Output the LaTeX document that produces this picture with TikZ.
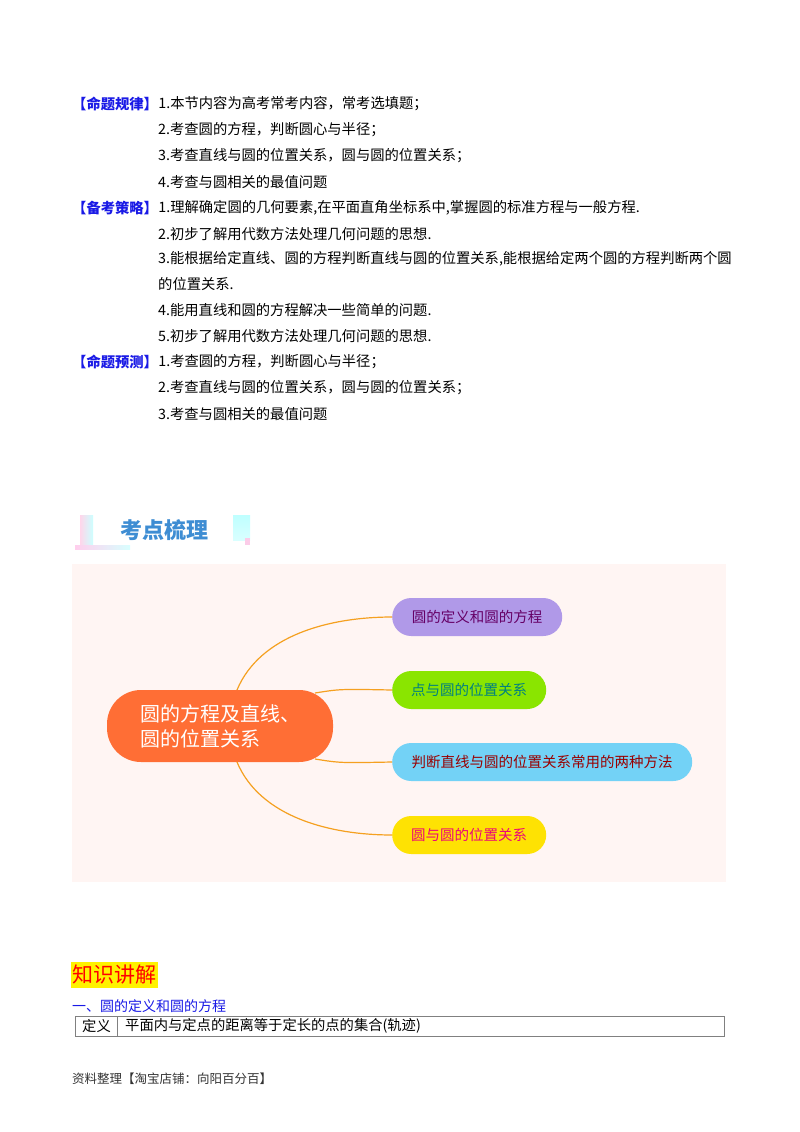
\documentclass[tikz,border=0pt]{standalone}
\usepackage{fontspec}
\setmainfont{Noto Sans CJK SC}
\definecolor{lblue}{HTML}{1A1AE6}
\definecolor{bgp}{HTML}{FFF5F3}
\definecolor{orc}{HTML}{FF6E35}
\definecolor{curv}{HTML}{F5A020}
\begin{document}
\begin{tikzpicture}[x=1pt,y=-1pt,
 tx/.style={anchor=west,inner sep=0pt,font=\fontsize{14.3}{16}\selectfont},
 lab/.style={tx,text=lblue,font=\fontsize{14.3}{16}\selectfont\bfseries},
 leaf/.style={rounded corners=19pt,minimum height=38pt,inner xsep=18pt,anchor=west,font=\fontsize{14.5}{16}\selectfont},
 conn/.style={draw=curv,line width=1.2pt}]
\useasboundingbox (0,0) rectangle (800,1132);
\fill[white] (0,0) rectangle (800,1132);
% text block
\node[lab] (l1) at (72,104) {【命题规律】};
\node[tx] (t1) at (l1.east) {1.本节内容为高考常考内容，常考选填题；};
\node[tx] (t2) at (158,130) {2.考查圆的方程，判断圆心与半径；};
\node[tx] (t3) at (158,156) {3.考查直线与圆的位置关系，圆与圆的位置关系；};
\node[tx] (t4) at (158,182) {4.考查与圆相关的最值问题};
\node[lab] (l2) at (72,208) {【备考策略】};
\node[tx] (s1) at (l2.east) {1.理解确定圆的几何要素,在平面直角坐标系中,掌握圆的标准方程与一般方程.};
\node[tx] (s2) at (158,234) {2.初步了解用代数方法处理几何问题的思想.};
\node[tx] (s3) at (158,259) {3.能根据给定直线、圆的方程判断直线与圆的位置关系,能根据给定两个圆的方程判断两个圆};
\node[tx] (s3b) at (158,284) {的位置关系.};
\node[tx] (s4) at (158,310) {4.能用直线和圆的方程解决一些简单的问题.};
\node[tx] (s5) at (158,336) {5.初步了解用代数方法处理几何问题的思想.};
\node[lab] (l3) at (72,362) {【命题预测】};
\node[tx] (p1) at (l3.east) {1.考查圆的方程，判断圆心与半径；};
\node[tx] (p2) at (158,388) {2.考查直线与圆的位置关系，圆与圆的位置关系；};
\node[tx] (p3) at (158,414) {3.考查与圆相关的最值问题};
% header
\shade[left color=pink!80!magenta!40, right color=cyan!20] (80,515) rectangle (93,545);
\shade[left color=pink!70!magenta!40, right color=cyan!15] (75,545) rectangle (130,549);
\shade[top color=cyan!25, bottom color=cyan!15] (233,515) rectangle (250,540);
\fill[magenta!20] (245,538) rectangle (250,545);
\node[anchor=west,inner sep=0pt,text=cyan!60!blue!80,font=\fontsize{22}{24}\selectfont\bfseries] (hd) at (120,530) {考点梳理};
% mind map
\fill[bgp] (72,564) rectangle (726,882);
\node[rounded corners=34pt,fill=orc,minimum width=226pt,minimum height=72pt,text=white,align=left,font=\fontsize{20}{25}\selectfont] (c) at (220,726) {圆的方程及直线、\\圆的位置关系};
\node[leaf,fill=violet!45!blue!40!white,text=violet!80!black,minimum width=170pt] (n1) at (392,617) {圆的定义和圆的方程};
\node[leaf,fill=lime!80!green!90!black,text=teal,minimum width=154pt] (n2) at (392,690) {点与圆的位置关系};
\node[leaf,fill=cyan!55,text=red!60!black,minimum width=300pt] (n3) at (392,762) {判断直线与圆的位置关系常用的两种方法};
\node[leaf,fill=yellow!85!orange,text=magenta!80!red,minimum width=154pt] (n4) at (392,835) {圆与圆的位置关系};
\draw[conn] (237,690) .. controls (260,635) and (330,617) .. (n1.west);
\draw[conn] (315,693) .. controls (340,689) .. (n2.west);
\draw[conn] (315,759) .. controls (340,763) .. (n3.west);
\draw[conn] (237,762) .. controls (260,817) and (330,835) .. (n4.west);
% bottom
\fill[yellow] (71,962) rectangle (158,988);
\node[anchor=west,inner sep=0pt,text=red,font=\fontsize{21}{23}\selectfont] (zs) at (72,975) {知识讲解};
\node[anchor=west,inner sep=0pt,text=lblue,font=\fontsize{14}{16}\selectfont] (h1) at (72,1006) {一、圆的定义和圆的方程};
\draw[gray,line width=0.8pt] (75,1016) rectangle (724,1036) (117,1016) -- (117,1036);
\node[tx] (d1) at (82,1026) {定义};
\node[tx] (d2) at (125,1026) {平面内与定点的距离等于定长的点的集合(轨迹)};
\node[tx,font=\fontsize{12.5}{14}\selectfont,text=black!80] (ft) at (72,1079) {资料整理【淘宝店铺：向阳百分百】};
\end{tikzpicture}
\end{document}
